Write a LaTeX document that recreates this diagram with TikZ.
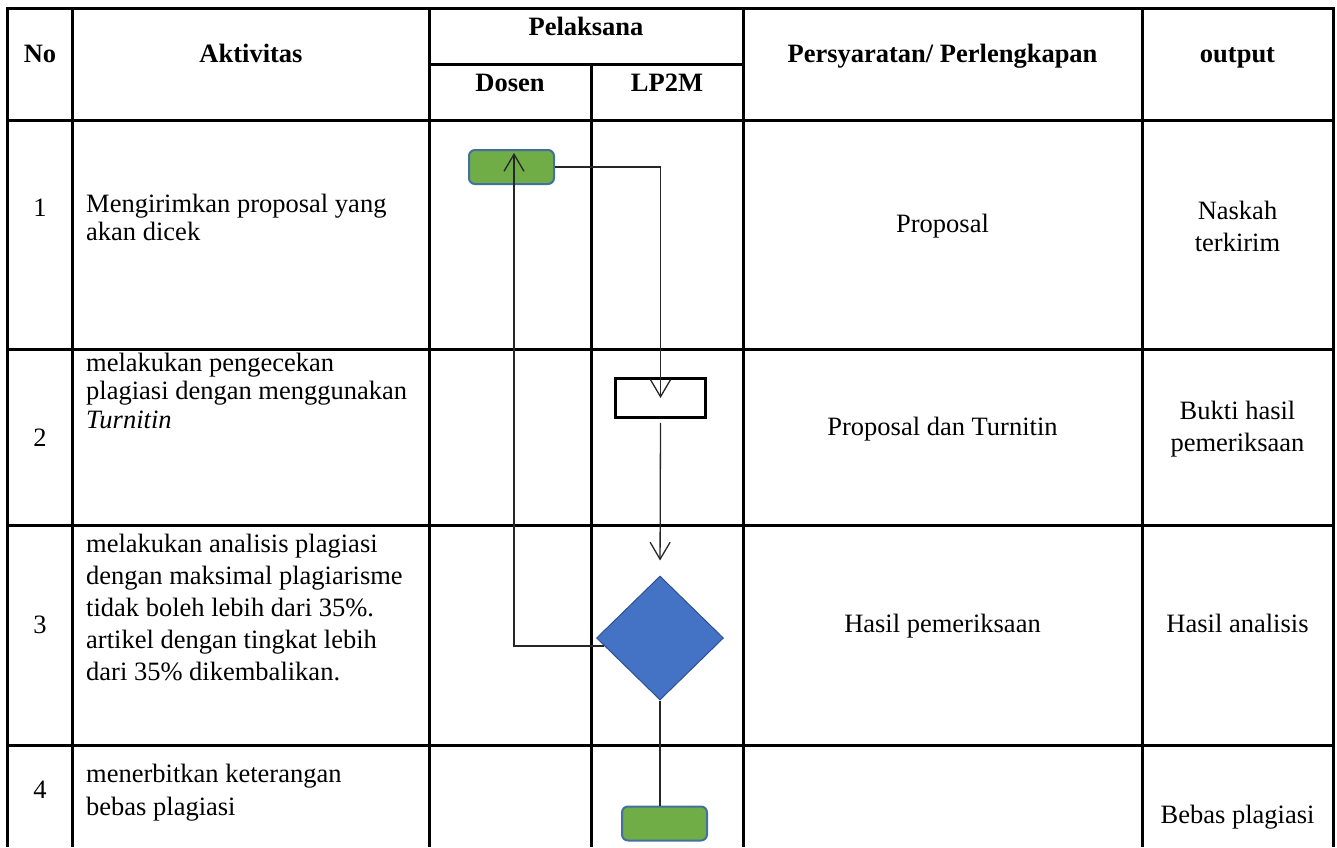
\documentclass[tikz,border=0pt]{standalone}
\usepackage{fontspec}
\setmainfont{Liberation Serif}
\usetikzlibrary{shapes.geometric,arrows.meta}

\definecolor{hijau}{HTML}{70AD47}
\definecolor{tepibiru}{HTML}{41719C}
\definecolor{biru}{HTML}{4472C4}
\definecolor{birugelap}{HTML}{2F528F}

\begin{document}
\begin{tikzpicture}[x=1pt,y=-1pt,
    garis/.style={line width=3pt},
    alur/.style={line width=1.3pt, draw=black!85, -{Straight Barb[length=17pt,width=20pt,line width=1.3pt]}},
    mulai/.style={draw=tepibiru, line width=2pt, fill=hijau, rounded corners=6pt, minimum width=85pt, minimum height=34pt, inner sep=0pt},
    proses/.style={draw=black, line width=2.5pt, fill=white, minimum width=90pt, minimum height=39pt, inner sep=0pt},
    putus/.style={diamond, draw=birugelap, line width=1pt, fill=biru, minimum width=127pt, minimum height=124pt, inner sep=0pt},
    kepala/.style={font=\fontsize{26.5}{29}\selectfont\bfseries, inner sep=0pt, anchor=base},
    isi/.style={font=\fontsize{26.5}{32}\selectfont, inner sep=0pt, anchor=base},
    aktiv/.style={font=\fontsize{26.5}{#1}\selectfont, inner sep=0pt, anchor=north west, align=left},
    hasil/.style={font=\fontsize{26.5}{32}\selectfont, inner sep=0pt, anchor=north, align=center}]
    \useasboundingbox (0,0) rectangle (1337,847);

    % kerangka tabel
    \draw[garis] (7,847) -- (7,8) -- (1333,8) -- (1333,847);
    \draw[garis] (7,120) -- (1333,120);
    \draw[garis] (429,64) -- (743,64);
    \foreach \y in {349,525,745} \draw[garis] (7,\y) -- (1333,\y);
    \foreach \x in {72,429,743,1142} \draw[garis] (\x,8) -- (\x,847);
    \draw[garis] (591,64) -- (591,847);

    % judul kolom
    \node[kepala] (hNo) at (40,62.7) {No};
    \node[kepala] (hAktivitas) at (251,62.7) {Aktivitas};
    \node[kepala] (hPelaksana) at (586,35) {Pelaksana};
    \node[kepala] (hDosen) at (510,91) {Dosen};
    \node[kepala] (hLPPM) at (667,91) {LP2M};
    \node[kepala] (hSyarat) at (942.5,62.7) {Persyaratan/ Perlengkapan};
    \node[kepala] (hOutput) at (1237.5,62.7) {output};

    % nomor
    \node[isi] (no1) at (40,216) {1};
    \node[isi] (no2) at (40,446) {2};
    \node[isi] (no3) at (40,633) {3};
    \node[isi] (no4) at (40,798) {4};

    % aktivitas
    \node[aktiv=28.5] (akt1) at (86,193.5) {Mengirimkan proposal yang\\akan dicek};
    \node[aktiv=28.5] (akt2) at (86,352.5) {melakukan pengecekan\\plagiasi dengan menggunakan\\\textit{Turnitin}};
    \node[aktiv=32] (akt3) at (86,534) {melakukan analisis plagiasi\\dengan maksimal plagiarisme\\tidak boleh lebih dari 35\%.\\artikel dengan tingkat lebih\\dari 35\% dikembalikan.};
    \node[aktiv=33] (akt4) at (86,764) {menerbitkan keterangan\\bebas plagiasi};

    % persyaratan
    \node[isi] (syarat1) at (942.5,232) {Proposal};
    \node[isi] (syarat2) at (942.5,435) {Proposal dan Turnitin};
    \node[isi] (syarat3) at (942.5,632) {Hasil pemeriksaan};

    % output
    \node[hasil] (out1) at (1237.5,200.5) {Naskah\\terkirim};
    \node[hasil] (out2) at (1237.5,400.5) {Bukti hasil\\pemeriksaan};
    \node[isi] (out3) at (1237.5,632) {Hasil analisis};
    \node[isi] (out4) at (1237.5,823) {Bebas plagiasi};

    % bagan alir
    \node[mulai] (kirim) at (511.5,167) {};
    \node[proses] (periksa) at (660.5,398) {};
    \node[putus] (analisis) at (660,638) {};
    \node[mulai] (terbit) at (664.5,823.5) {};

    \draw[alur] (kirim.east) -| (periksa.center);
    \draw[alur, shorten <=4pt, shorten >=15pt] (periksa.south) -- (analisis.north);
    \draw[alur, shorten >=4pt] (analisis.188) -| ([xshift=2.5pt]kirim.north);
    \draw[line width=1.3pt, draw=black!85] (analisis.south) -- (analisis.south |- terbit.north);
\end{tikzpicture}
\end{document}
